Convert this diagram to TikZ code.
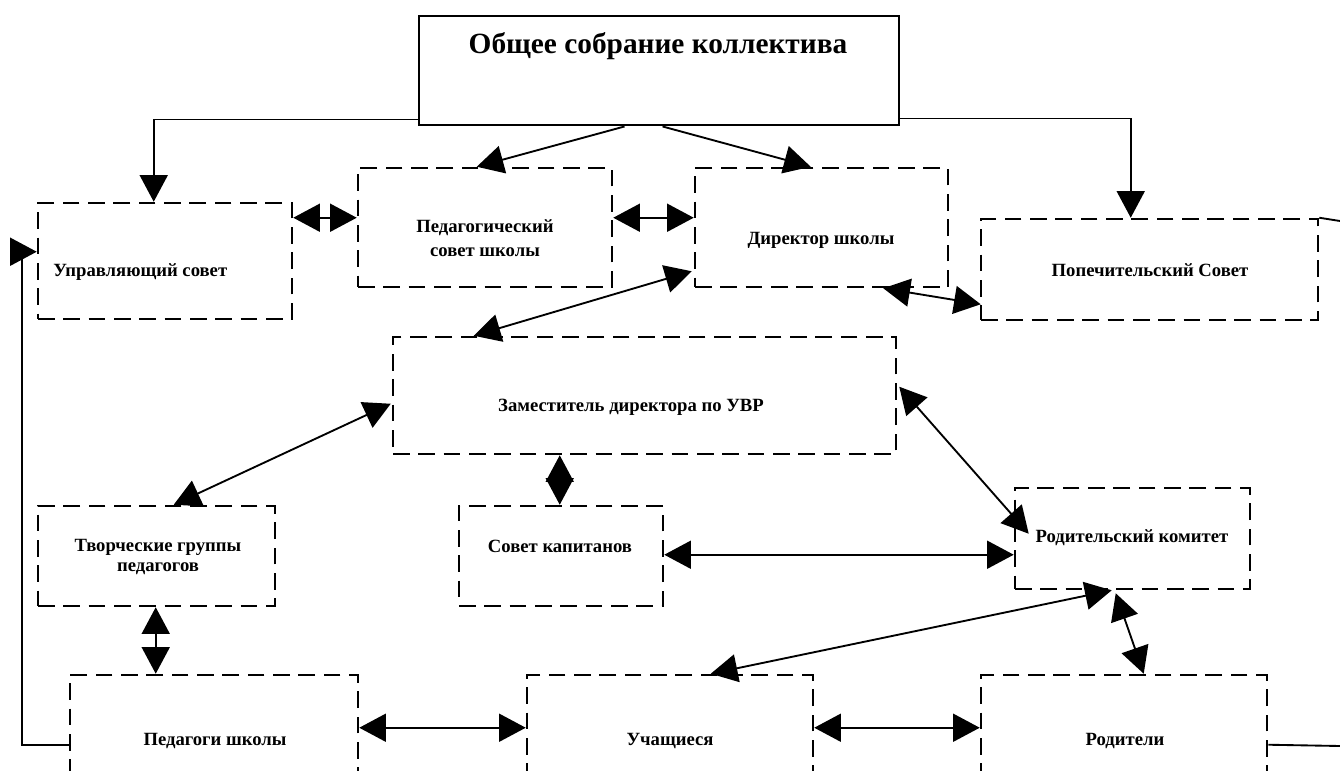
\documentclass[tikz,border=0pt]{standalone}
\usepackage{fontspec}
\setmainfont{Liberation Serif}
\usetikzlibrary{arrows.meta,fit,calc}
\begin{document}
\begin{tikzpicture}[x=0.75pt,y=-0.75pt,
  dbox/.style={draw, line width=1.9pt, dash pattern=on 12.5pt off 6.5pt, inner sep=0pt},
  tbox/.style={draw, line width=2.2pt, inner sep=0pt},
  lbl/.style={font=\bfseries\fontsize{14}{18}\selectfont, align=center, inner sep=0pt},
  ttl/.style={font=\bfseries\fontsize{22}{26}\selectfont, inner sep=0pt},
  tip/.tip={Triangle[length=20pt,width=21pt]},
  con/.style={line width=1.4pt},
  sgl/.style={con, -{tip}},
  dbl/.style={con, {tip}-{tip}}]
\useasboundingbox (0,0) rectangle (1340,771);
\fill[white] (0,0) rectangle (1340,771);
\clip (0,0) rectangle (1340,771);

% boxes
\node[tbox, fit={(419,16) (899,125)}] (top) {};
\node[dbox, fit={(38,203) (292,319)}] (upr) {};
\node[dbox, fit={(358,168) (612,287)}] (ped) {};
\node[dbox, fit={(695,168) (948,287)}] (dir) {};
\node[dbox, fit={(981,219) (1318,320)}] (pop) {};
\node[dbox, fit={(393,337) (896,454)}] (zam) {};
\node[dbox, fit={(38,506) (275,606)}] (tvor) {};
\node[dbox, fit={(459,506) (663,606)}] (sk) {};
\node[dbox, fit={(1015,488) (1250,589)}] (rk) {};
\node[dbox, fit={(70,675) (358,800)}] (pedsh) {};
\node[dbox, fit={(527,675) (813,800)}] (uch) {};
\node[dbox, fit={(981,675) (1267,800)}] (rod) {};

% texts
\node[ttl] (ttop) at (658,46) {Общее собрание коллектива};
\node[lbl, anchor=west] (tupr) at (53,272) {Управляющий совет};
\node[lbl] (tped) at (485,238) {Педагогический\\совет школы};
\node[lbl] (tdir) at (821,240) {Директор школы};
\node[lbl] (tpop) at (1150,270) {Попечительский Совет};
\node[lbl] (tzam) at (631,407) {Заместитель директора по УВР};
\node[lbl, font=\bfseries\fontsize{14}{15}\selectfont] (ttvor) at (158,557) {Творческие группы\\педагогов};
\node[lbl] (tsk) at (560,546) {Совет капитанов};
\node[lbl] (trk) at (1132,538) {Родительский комитет};
\node[lbl] (tpedsh) at (215,741) {Педагоги школы};
\node[lbl] (tuch) at (670,741) {Учащиеся};
\node[lbl] (trod) at (1125,741) {Родители};

% helper coordinates
\coordinate (lx) at (22,0);
\coordinate (uprin) at ($(upr.north west)+(0,50)$);
\coordinate (rend) at (1340,746);
\coordinate (pend) at (1340,221);

% connectors
\draw[sgl] ($(top.south west)+(0,-7)$) -| ($(upr.north west)+(117,0)$);
\draw[sgl] ($(top.south east)+(0,-8)$) -| ($(pop.north west)+(151,0)$);
\draw[sgl] ($(top.south west)+(207,0)$) -- ($(ped.north west)+(120,0)$);
\draw[sgl] ($(top.south west)+(245,0)$) -- ($(dir.north west)+(117,0)$);
\draw[dbl] ($(upr.north east)+(0,16)$) -- ($(ped.north west)+(0,51)$);
\draw[dbl] ($(ped.north east)+(0,51)$) -- ($(dir.north west)+(0,51)$);
\draw[dbl] ($(dir.south west)+(-2,-17)$) -- ($(zam.north west)+(82,0)$);
\draw[dbl] ($(dir.south east)+(-66,0)$) -- ($(pop.south west)+(1,-17)$);
\draw[dbl] ($(zam.north east)+(2,51)$) -- ($(rk.north west)+(15,47)$);
\draw[dbl] ($(zam.north west)+(-1,68)$) -- ($(tvor.north west)+(137,0)$);
\draw[dbl] ($(zam.south west)+(168,0)$) -- ($(sk.north west)+(102,0)$);
\draw[dbl] ($(sk.north east)+(0,50)$) -- ($(rk.north west)+(0,68)$);
\draw[dbl] ($(tvor.south west)+(119,0)$) -- ($(pedsh.north west)+(87,0)$);
\draw[dbl] ($(pedsh.north east)+(0,54)$) -- ($(uch.north west)+(0,54)$);
\draw[dbl] ($(uch.north east)+(0,54)$) -- ($(rod.north west)+(0,54)$);
\draw[dbl] ($(rk.south west)+(98,0)$) -- ($(uch.north west)+(185,0)$);
\draw[dbl] ($(rk.south west)+(102,3)$) -- ($(rod.north west)+(164,0)$);
\draw[sgl] ($(pedsh.north west)+(0,71)$) -| (lx |- uprin) -- (uprin);
\draw[con] ($(rod.north east)+(0,71)$) -- (rend);
\draw[con] (pop.north east) -- (pend);
\end{tikzpicture}
\end{document}
